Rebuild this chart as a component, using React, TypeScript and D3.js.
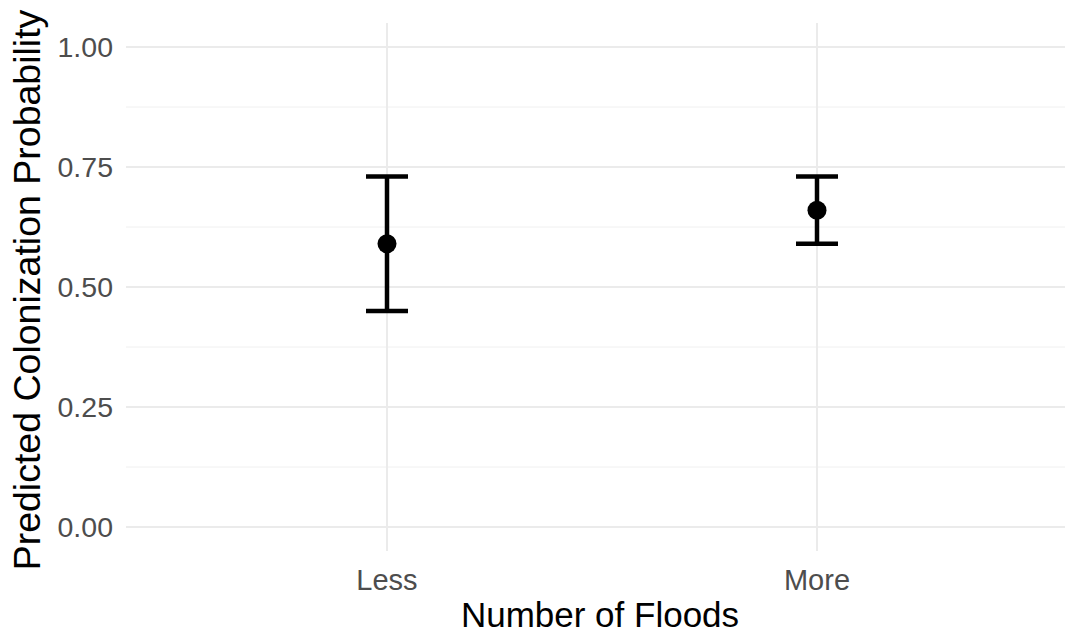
import React from "react";
import * as d3 from "d3";

const categories = ["Less", "More"];
const means = [0.59, 0.66];
const lowers = [0.45, 0.59];
const uppers = [0.73, 0.73];
const yTicks = [0, 0.25, 0.5, 0.75, 1.0];
const yMinor = [0.125, 0.375, 0.625, 0.875];

const W = 1065;
const H = 635;

export default function App() {
  const plotLeft = 126;
  const plotRight = 1078;
  const plotTop = 23;
  const plotBottom = 551;

  const x = d3.scalePoint<string>().domain(categories).range([387, 817]);
  const y = d3.scaleLinear().domain([0, 1]).range([527, 47]);
  const fmt = d3.format(".2f");
  const capHalf = 21;
  const font = "'Liberation Sans', Arial, sans-serif";

  return (
    <svg
      width={W}
      height={H}
      style={{ position: "absolute", left: 0, top: 0, background: "#fff" }}
      fontFamily={font}
    >
      <rect width={W} height={H} fill="#fff" />
      {yMinor.map((v) => (
        <line key={"mn" + v} x1={plotLeft} x2={plotRight} y1={y(v)} y2={y(v)} stroke="#F0F0F0" strokeWidth={1} />
      ))}
      {yTicks.map((v) => (
        <line key={"mj" + v} x1={plotLeft} x2={plotRight} y1={y(v)} y2={y(v)} stroke="#EBEBEB" strokeWidth={2} />
      ))}
      {categories.map((c) => (
        <line key={"vx" + c} x1={x(c)} x2={x(c)} y1={plotTop} y2={plotBottom} stroke="#EBEBEB" strokeWidth={2} />
      ))}
      {yTicks.map((v) => (
        <text key={"yt" + v} x={113} y={y(v)} dy="0.36em" textAnchor="end" fontSize={28.5} fill="#4D4D4D">
          {fmt(v)}
        </text>
      ))}
      {categories.map((c) => (
        <text key={"xt" + c} x={x(c)} y={590} textAnchor="middle" fontSize={29} fill="#4D4D4D">
          {c}
        </text>
      ))}
      {categories.map((c, i) => {
        const cx = x(c) as number;
        return (
          <g key={"eb" + c}>
            <line x1={cx} x2={cx} y1={y(uppers[i])} y2={y(lowers[i])} stroke="#000" strokeWidth={4.5} />
            <line x1={cx - capHalf} x2={cx + capHalf} y1={y(uppers[i])} y2={y(uppers[i])} stroke="#000" strokeWidth={4.5} />
            <line x1={cx - capHalf} x2={cx + capHalf} y1={y(lowers[i])} y2={y(lowers[i])} stroke="#000" strokeWidth={4.5} />
            <circle cx={cx} cy={y(means[i])} r={9.5} fill="#000" />
          </g>
        );
      })}
      <text x={600} y={627} textAnchor="middle" fontSize={35} fill="#000">
        Number of Floods
      </text>
      <text
        transform={`translate(40, 290) rotate(-90)`}
        textAnchor="middle"
        fontSize={37.5}
        fill="#000"
      >
        Predicted Colonization Probability
      </text>
    </svg>
  );
}
